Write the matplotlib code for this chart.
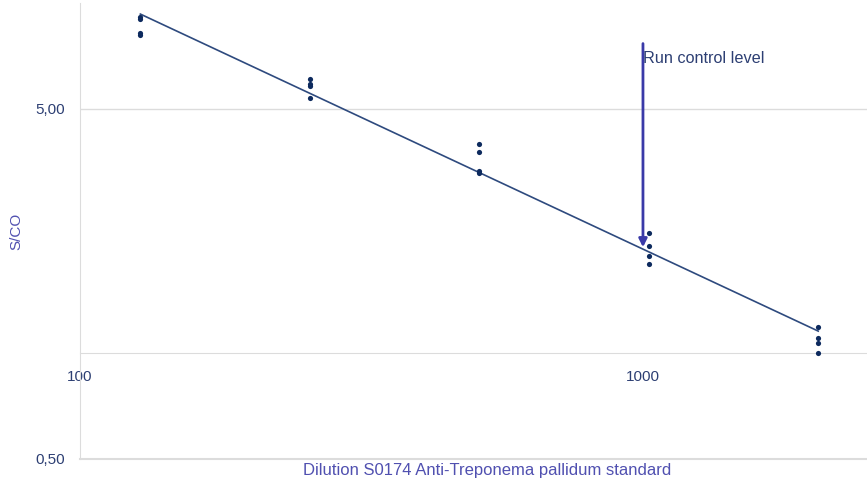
import numpy as np
import matplotlib
matplotlib.use('Agg')
import matplotlib.pyplot as plt

plt.rcParams['font.family'] = ['Liberation Sans', 'DejaVu Sans']

# dilution series and four replicate S/CO readings per dilution
dilutions = [128, 256, 512, 1024, 2048]
sco_values = [
    [9.14, 9.03, 8.23, 8.13],
    [6.05, 5.89, 5.81, 5.34],
    [3.95, 3.75, 3.31, 3.27],
    [2.20, 2.02, 1.90, 1.80],
    [1.19, 1.11, 1.07, 1.00],
]
run_control_dilution = 1000
run_control_sco = 2.01
y_ticks = [0.5, 5.0]
y_tick_labels = ['0,50', '5,00']
x_ticks = [100, 1000]
x_tick_labels = ['100', '1000']

dot_color = '#0d2a5e'
line_color = '#2e4a7e'
tick_color = '#2d3f73'
label_color = '#5050b0'
arrow_color = '#3a3aa8'
grid_color = '#dcdcdc'

fig = plt.figure(figsize=(8.67, 4.84), dpi=100)
ax = fig.add_axes([80 / 867, 25 / 484, 1 - 80 / 867, (459 - 3) / 484])
ax.set_xscale('log')
ax.set_yscale('log')
ax.set_xlim(100, 2500)
ax.set_ylim(0.5, 10)

# replicate points
xs = np.repeat(dilutions, 4)
ys = np.array(sco_values).ravel()
ax.scatter(xs, ys, s=14, color=dot_color, zorder=3, linewidths=0)

# regression line in log-log space
slope, intercept = np.polyfit(np.log10(xs), np.log10(ys), 1)
fit_x = np.array([dilutions[0], dilutions[-1]])
fit_y = 10 ** (intercept + slope * np.log10(fit_x))
ax.plot(fit_x, fit_y, color=line_color, lw=1.2, zorder=2)

# run control arrow
ax.annotate('', xy=(run_control_dilution, run_control_sco), xytext=(run_control_dilution, 7.66),
            arrowprops=dict(arrowstyle='-|>', color=arrow_color, lw=2, mutation_scale=12,
                            shrinkA=0, shrinkB=0))
ax.text(run_control_dilution, 6.95, 'Run control level', color=tick_color, fontsize=11.7,
        ha='left', va='center')

# grid and axes styling
ax.axhline(5.0, color=grid_color, lw=1, zorder=0)
ax.axhline(0.5, color=grid_color, lw=1.5, zorder=0, clip_on=False)
for side in ['top', 'right']:
    ax.spines[side].set_visible(False)
ax.spines['left'].set_color(grid_color)
ax.spines['bottom'].set_color(grid_color)
ax.spines['bottom'].set_position(('data', 1.0))

ax.set_yticks(y_ticks)
ax.set_yticklabels(y_tick_labels)
ax.yaxis.set_minor_locator(matplotlib.ticker.NullLocator())
ax.set_xticks(x_ticks)
ax.set_xticklabels(x_tick_labels)
ax.xaxis.set_minor_locator(matplotlib.ticker.NullLocator())
ax.tick_params(axis='y', length=0, pad=11, labelsize=11, labelcolor=tick_color)
ax.tick_params(axis='x', length=0, pad=12, labelsize=11, labelcolor=tick_color)

ax.set_ylabel('S/CO', color=label_color, fontsize=11)
ax.yaxis.set_label_coords(-57 / 787, 0.5)
ax.set_xlabel('Dilution S0174 Anti-Treponema pallidum standard', color=label_color, fontsize=12)
ax.xaxis.set_label_coords((487 - 80) / 787, -4 / 456)

fig.savefig('out.png', dpi=100)
